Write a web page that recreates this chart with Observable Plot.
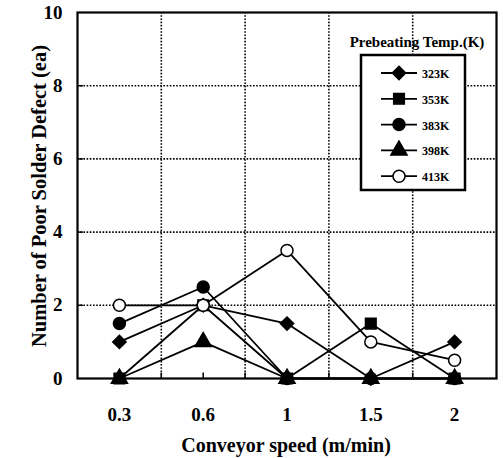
<!DOCTYPE html>
<html><head><meta charset="utf-8">
<script src="https://cdn.jsdelivr.net/npm/d3@7"></script>
<script src="https://cdn.jsdelivr.net/npm/@observablehq/plot@0.6"></script>
<style>
body{margin:0;background:#fff;}
svg{font-family:"Liberation Serif","Times New Roman",serif;}
</style></head>
<body><div id="chart"></div>
<script>
const speeds = ["0.3", "0.6", "1", "1.5", "2"];
const temps = ["323K", "353K", "383K", "398K", "413K"];
const s323 = [1, 2, 1.5, 0, 1];
const s353 = [0, 2, 0, 1.5, 0];
const s383 = [1.5, 2.5, 0, 0, 0];
const s398 = [0, 1, 0, 0, 0];
const s413 = [2, 2, 3.5, 1, 0.5];
const yTicks = [0, 2, 4, 6, 8, 10];

const seriesValues = {"323K": s323, "353K": s353, "383K": s383, "398K": s398, "413K": s413};
const symbols = {"323K": "diamond2", "353K": "square", "383K": "circle", "398K": "triangle", "413K": "circle"};
const fills = {"323K": "black", "353K": "black", "383K": "black", "398K": "black", "413K": "white"};
const drawOrder = ["398K", "323K", "383K", "353K", "413K"];

const rows = [];
for (const t of drawOrder) seriesValues[t].forEach((v, i) => rows.push({temp: t, xi: i, v}));

const gridX = d3.range(speeds.length - 1).map(i => i + 0.5);
const gridY = yTicks.slice(1, -1);
const dash = "1.6,1.6";

const plot = Plot.plot({
  width: 503, height: 458,
  marginLeft: 77, marginRight: 7, marginTop: 12, marginBottom: 80,
  style: {fontFamily: '"Liberation Serif", serif', background: "white"},
  x: {domain: [-0.5, speeds.length - 0.5], axis: null},
  y: {domain: [0, 10], axis: null},
  marks: [
    Plot.ruleX(gridX, {stroke: "black", strokeWidth: 1.6, strokeDasharray: dash}),
    Plot.ruleY(gridY, {stroke: "black", strokeWidth: 1.6, strokeDasharray: dash}),
    Plot.ruleX(d3.range(speeds.length * 2 - 1).map(i => i / 2), {x: d => d, y1: 0, y2: 0.15, stroke: "black", strokeWidth: 1.5}),
    Plot.ruleY(gridY, {y: d => d, x1: -0.5, x2: -0.43, stroke: "black", strokeWidth: 1.5}),
    Plot.axisY({ticks: yTicks, tickSize: 0, tickPadding: 15, fontSize: 19, fontWeight: "bold",
      label: null}),
    Plot.axisX({ticks: d3.range(speeds.length), tickFormat: i => speeds[i], tickSize: 0, tickPadding: 29, fontSize: 19, fontWeight: "bold",
      label: null}),
    Plot.line(rows, {x: "xi", y: "v", z: "temp", stroke: "black", strokeWidth: 1.8}),
    Plot.dot(rows, {x: "xi", y: "v", symbol: d => symbols[d.temp], fill: d => fills[d.temp], stroke: "black", strokeWidth: 1.5, r: 6}),
    Plot.frame({stroke: "black", strokeWidth: 2.2})
  ]
});
document.getElementById("chart").append(plot);

const svg = d3.select(plot);
// Axis titles
svg.append("text").attr("x", 286).attr("y", 452).attr("text-anchor", "middle")
  .attr("font-size", 20).attr("font-weight", "bold").text("Conveyor speed (m/min)");
svg.append("text").attr("transform", "translate(46,196) rotate(-90)").attr("text-anchor", "middle")
  .attr("font-size", 20).attr("font-weight", "bold")
  .attr("textLength", 302).attr("lengthAdjust", "spacingAndGlyphs")
  .text("Number of Poor Solder Defect (ea)");

// Legend
const lg = svg.append("g");
lg.append("text").attr("x", 417).attr("y", 47).attr("text-anchor", "middle")
  .attr("font-size", 15).attr("font-weight", "bold").text("Prebeating Temp.(K)");
lg.append("rect").attr("x", 361).attr("y", 55).attr("width", 104).attr("height", 135)
  .attr("fill", "white").attr("stroke", "black").attr("stroke-width", 2.5);
const symMap = {diamond2: d3.symbolDiamond2, square: d3.symbolSquare, circle: d3.symbolCircle, triangle: d3.symbolTriangle};
temps.forEach((t, i) => {
  const y = 73 + i * 25.8;
  lg.append("line").attr("x1", 381).attr("x2", 417).attr("y1", y).attr("y2", y).attr("stroke", "black").attr("stroke-width", 1.8);
  lg.append("path").attr("transform", `translate(399,${y})`)
    .attr("d", d3.symbol(symMap[symbols[t]], Math.PI * 36)())
    .attr("fill", fills[t]).attr("stroke", "black").attr("stroke-width", 1.5);
  lg.append("text").attr("x", 422).attr("y", y + 5).attr("text-anchor", "start")
    .attr("font-size", 12).attr("font-weight", "bold").text(t);
});
</script></body></html>
